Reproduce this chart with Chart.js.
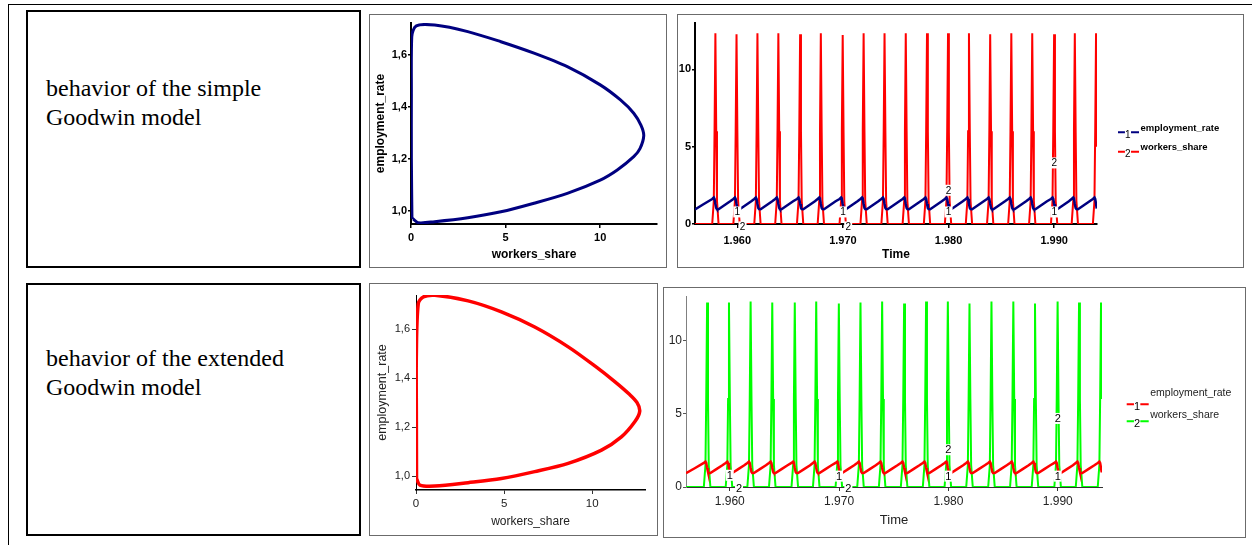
<!DOCTYPE html>
<html>
<head>
<meta charset="utf-8">
<script src="https://cdn.jsdelivr.net/npm/chart.js@4.4.1/dist/chart.umd.min.js"></script>
<style>
  html, body { margin: 0; padding: 0; background: #fff; }
  body { width: 1252px; height: 545px; position: relative; overflow: hidden; }
  .rule-top { position: absolute; left: 8px; top: 4px; width: 1244px; height: 1px; background: #000; }
  .rule-left { position: absolute; left: 8px; top: 4px; width: 1px; height: 541px; background: #000; }
  .textbox { position: absolute; border: 2px solid #000; box-sizing: border-box; }
  .textbox p { position: absolute; left: 18px; margin: 0; font-family: "Liberation Serif", "Times New Roman", serif; font-size: 24px; line-height: 29px; color: #000; white-space: nowrap; }
  .plotbox { position: absolute; border: 1px solid #6b6b6b; box-sizing: border-box; }
  .plotbox canvas { position: absolute; left: 0; top: 0; }
</style>
</head>
<body>
<div class="rule-top"></div>
<div class="rule-left"></div>

<div class="textbox" style="left:26px;top:10px;width:335px;height:258px">
  <p style="top:62px">behavior of the simple<br>Goodwin model</p>
</div>
<div class="textbox" style="left:26px;top:283px;width:335px;height:253px">
  <p style="top:59px">behavior of the extended<br>Goodwin model</p>
</div>

<div class="plotbox" style="left:369px;top:14px;width:298px;height:254px">
  <canvas id="phaseSimple" width="296" height="252"></canvas>
</div>
<div class="plotbox" style="left:677px;top:14px;width:567px;height:254px">
  <canvas id="timeSimple" width="565" height="252"></canvas>
</div>
<div class="plotbox" style="left:369px;top:283px;width:289px;height:253px">
  <canvas id="phaseExtended" width="287" height="251"></canvas>
</div>
<div class="plotbox" style="left:663px;top:287px;width:583px;height:251px">
  <canvas id="timeExtended" width="581" height="249"></canvas>
</div>

<script>
// ---- phase portraits (workers_share on x, employment_rate on y), one orbit each ----
const simpleOrbitWS  = [0.05, 0.02, 0.02, 0.04, 0.28, 1.25, 3.0, 4.75, 6.5, 8.26, 10.0, 11.07, 11.77, 12.15, 12.3, 12.1, 11.77, 10.9, 10.0, 8.26, 6.5, 4.75, 3.0, 1.25, 0.37, 0.07, 0.05];
const simpleOrbitEmp = [0.97, 1.2, 1.45, 1.67, 1.712, 1.715, 1.69, 1.651, 1.607, 1.555, 1.485, 1.427, 1.376, 1.33, 1.29, 1.24, 1.209, 1.158, 1.119, 1.068, 1.03, 0.997, 0.974, 0.959, 0.955, 0.972, 0.97];

const extOrbitWS  = [0.03, 0.02, 0.02, 0.13, 0.41, 1.07, 2.96, 4.85, 6.74, 8.64, 10.15, 11.3, 12.1, 12.55, 12.7, 12.45, 11.66, 10.53, 8.64, 6.74, 4.85, 2.96, 1.07, 0.22, 0.03];
const extOrbitEmp = [0.99, 1.25, 1.5, 1.705, 1.732, 1.739, 1.716, 1.671, 1.609, 1.528, 1.45, 1.385, 1.335, 1.30, 1.265, 1.225, 1.16, 1.106, 1.052, 1.018, 0.99, 0.973, 0.959, 0.963, 0.99];

const phaseXTicks = [0, 5, 10];
const phaseXLabels = ['0', '5', '10'];
const phaseYTicks = [1.0, 1.2, 1.4, 1.6];
const phaseYLabels = ['1,0', '1,2', '1,4', '1,6'];

// ---- time series (simulation time grid shared by both models) ----
const years = [
  1956.00, 1956.80,
  1957.63, 1957.78, 1957.85, 1957.93, 1958.01, 1958.08, 1958.23, 1958.78, 1959.33,
  1959.63, 1959.78, 1959.85, 1959.93, 1960.01, 1960.08, 1960.23, 1960.78, 1961.33,
  1961.61, 1961.76, 1961.83, 1961.91, 1961.99, 1962.06, 1962.21, 1962.76, 1963.31,
  1963.59, 1963.74, 1963.81, 1963.89, 1963.97, 1964.04, 1964.19, 1964.74, 1965.29,
  1965.65, 1965.80, 1965.87, 1965.95, 1966.03, 1966.10, 1966.25, 1966.80, 1967.35,
  1967.61, 1967.76, 1967.83, 1967.91, 1967.99, 1968.06, 1968.21, 1968.76, 1969.31,
  1969.68, 1969.83, 1969.90, 1969.98, 1970.06, 1970.13, 1970.28, 1970.83, 1971.38,
  1971.66, 1971.81, 1971.88, 1971.96, 1972.04, 1972.11, 1972.26, 1972.81, 1973.36,
  1973.64, 1973.79, 1973.86, 1973.94, 1974.02, 1974.09, 1974.24, 1974.79, 1975.34,
  1975.65, 1975.80, 1975.87, 1975.95, 1976.03, 1976.10, 1976.25, 1976.80, 1977.35,
  1977.66, 1977.81, 1977.88, 1977.96, 1978.04, 1978.11, 1978.26, 1978.81, 1979.36,
  1979.65, 1979.80, 1979.87, 1979.95, 1980.03, 1980.10, 1980.25, 1980.80, 1981.35,
  1981.63, 1981.78, 1981.85, 1981.93, 1982.01, 1982.08, 1982.23, 1982.78, 1983.33,
  1983.64, 1983.79, 1983.86, 1983.94, 1984.02, 1984.09, 1984.24, 1984.79, 1985.34,
  1985.64, 1985.79, 1985.86, 1985.94, 1986.02, 1986.09, 1986.24, 1986.79, 1987.34,
  1987.62, 1987.77, 1987.84, 1987.92, 1988.00, 1988.07, 1988.22, 1988.77, 1989.32,
  1989.69, 1989.84, 1989.91, 1989.99, 1990.07, 1990.14, 1990.29, 1990.84, 1991.39,
  1991.65, 1991.80, 1991.87, 1991.95, 1992.03, 1992.10, 1992.25, 1992.80, 1993.35,
  1993.66, 1993.81, 1993.88, 1993.96, 1994.02
];

const simpleEmployment = [
  0.94, 1.28,
  1.62, 1.71, 1.62, 1.30, 1.03, 0.96, 0.95, 1.21, 1.47,
  1.62, 1.71, 1.62, 1.30, 1.03, 0.96, 0.95, 1.21, 1.47,
  1.62, 1.71, 1.62, 1.30, 1.03, 0.96, 0.95, 1.21, 1.47,
  1.62, 1.71, 1.62, 1.30, 1.03, 0.96, 0.95, 1.21, 1.47,
  1.62, 1.71, 1.62, 1.30, 1.03, 0.96, 0.95, 1.21, 1.47,
  1.62, 1.71, 1.62, 1.30, 1.03, 0.96, 0.95, 1.21, 1.47,
  1.62, 1.71, 1.62, 1.30, 1.03, 0.96, 0.95, 1.21, 1.47,
  1.62, 1.71, 1.62, 1.30, 1.03, 0.96, 0.95, 1.21, 1.47,
  1.62, 1.71, 1.62, 1.30, 1.03, 0.96, 0.95, 1.21, 1.47,
  1.62, 1.71, 1.62, 1.30, 1.03, 0.96, 0.95, 1.21, 1.47,
  1.62, 1.71, 1.62, 1.30, 1.03, 0.96, 0.95, 1.21, 1.47,
  1.62, 1.71, 1.62, 1.30, 1.03, 0.96, 0.95, 1.21, 1.47,
  1.62, 1.71, 1.62, 1.30, 1.03, 0.96, 0.95, 1.21, 1.47,
  1.62, 1.71, 1.62, 1.30, 1.03, 0.96, 0.95, 1.21, 1.47,
  1.62, 1.71, 1.62, 1.30, 1.03, 0.96, 0.95, 1.21, 1.47,
  1.62, 1.71, 1.62, 1.30, 1.03, 0.96, 0.95, 1.21, 1.47,
  1.62, 1.71, 1.62, 1.30, 1.03, 0.96, 0.95, 1.21, 1.47,
  1.62, 1.71, 1.62, 1.30, 1.03, 0.96, 0.95, 1.21, 1.47,
  1.62, 1.71, 1.62, 1.30, 1.00
];

const simpleWorkers = [
  0, 0,
  0, 1.5, 6, 12.33, 6, 1.5, 0, 0, 0,
  0, 1.5, 6, 12.27, 6, 1.5, 0, 0, 0,
  0, 1.5, 6, 12.33, 6, 1.5, 0, 0, 0,
  0, 1.5, 6, 12.33, 6, 1.5, 0, 0, 0,
  0, 1.5, 6, 12.27, 6, 1.5, 0, 0, 0,
  0, 1.5, 6, 12.33, 6, 1.5, 0, 0, 0,
  0, 1.5, 6, 12.22, 6, 1.5, 0, 0, 0,
  0, 1.5, 6, 12.33, 6, 1.5, 0, 0, 0,
  0, 1.5, 6, 12.33, 6, 1.5, 0, 0, 0,
  0, 1.5, 6, 12.33, 6, 1.5, 0, 0, 0,
  0, 1.5, 6, 12.33, 6, 1.5, 0, 0, 0,
  0, 1.5, 6, 12.33, 6, 1.5, 0, 0, 0,
  0, 1.5, 6, 12.33, 6, 1.5, 0, 0, 0,
  0, 1.5, 6, 12.27, 6, 1.5, 0, 0, 0,
  0, 1.5, 6, 12.33, 6, 1.5, 0, 0, 0,
  0, 1.5, 6, 12.33, 6, 1.5, 0, 0, 0,
  0, 1.5, 6, 12.27, 6, 1.5, 0, 0, 0,
  0, 1.5, 6, 12.33, 6, 1.5, 0, 0, 0,
  0, 1.5, 6, 12.33, 5.0
];

const extEmployment = [
  0.94, 1.28,
  1.64, 1.73, 1.64, 1.30, 1.03, 0.96, 0.955, 1.22, 1.48,
  1.64, 1.73, 1.64, 1.30, 1.03, 0.96, 0.955, 1.22, 1.48,
  1.64, 1.73, 1.64, 1.30, 1.03, 0.96, 0.955, 1.22, 1.48,
  1.64, 1.73, 1.64, 1.30, 1.03, 0.96, 0.955, 1.22, 1.48,
  1.64, 1.73, 1.64, 1.30, 1.03, 0.96, 0.955, 1.22, 1.48,
  1.64, 1.73, 1.64, 1.30, 1.03, 0.96, 0.955, 1.22, 1.48,
  1.64, 1.73, 1.64, 1.30, 1.03, 0.96, 0.955, 1.22, 1.48,
  1.64, 1.73, 1.64, 1.30, 1.03, 0.96, 0.955, 1.22, 1.48,
  1.64, 1.73, 1.64, 1.30, 1.03, 0.96, 0.955, 1.22, 1.48,
  1.64, 1.73, 1.64, 1.30, 1.03, 0.96, 0.955, 1.22, 1.48,
  1.64, 1.73, 1.64, 1.30, 1.03, 0.96, 0.955, 1.22, 1.48,
  1.64, 1.73, 1.64, 1.30, 1.03, 0.96, 0.955, 1.22, 1.48,
  1.64, 1.73, 1.64, 1.30, 1.03, 0.96, 0.955, 1.22, 1.48,
  1.64, 1.73, 1.64, 1.30, 1.03, 0.96, 0.955, 1.22, 1.48,
  1.64, 1.73, 1.64, 1.30, 1.03, 0.96, 0.955, 1.22, 1.48,
  1.64, 1.73, 1.64, 1.30, 1.03, 0.96, 0.955, 1.22, 1.48,
  1.64, 1.73, 1.64, 1.30, 1.03, 0.96, 0.955, 1.22, 1.48,
  1.64, 1.73, 1.64, 1.30, 1.03, 0.96, 0.955, 1.22, 1.48,
  1.64, 1.73, 1.64, 1.30, 1.00
];

const extWorkers = [
  0, 0,
  0, 1.5, 6, 12.57, 6, 1.5, 0, 0, 0,
  0, 1.5, 6, 12.57, 6, 1.5, 0, 0, 0,
  0, 1.5, 6, 12.64, 6, 1.5, 0, 0, 0,
  0, 1.5, 6, 12.57, 6, 1.5, 0, 0, 0,
  0, 1.5, 6, 12.57, 6, 1.5, 0, 0, 0,
  0, 1.5, 6, 12.64, 6, 1.5, 0, 0, 0,
  0, 1.5, 6, 12.50, 6, 1.5, 0, 0, 0,
  0, 1.5, 6, 12.57, 6, 1.5, 0, 0, 0,
  0, 1.5, 6, 12.64, 6, 1.5, 0, 0, 0,
  0, 1.5, 6, 12.50, 6, 1.5, 0, 0, 0,
  0, 1.5, 6, 12.64, 6, 1.5, 0, 0, 0,
  0, 1.5, 6, 12.64, 6, 1.5, 0, 0, 0,
  0, 1.5, 6, 12.50, 6, 1.5, 0, 0, 0,
  0, 1.5, 6, 12.64, 6, 1.5, 0, 0, 0,
  0, 1.5, 6, 12.64, 6, 1.5, 0, 0, 0,
  0, 1.5, 6, 12.50, 6, 1.5, 0, 0, 0,
  0, 1.5, 6, 12.64, 6, 1.5, 0, 0, 0,
  0, 1.5, 6, 12.57, 6, 1.5, 0, 0, 0,
  0, 1.5, 6, 12.57, 6.0
];

const timeXTicks = [1960, 1970, 1980, 1990];
const timeXLabels = ['1.960', '1.970', '1.980', '1.990'];
const timeYTicks = [0, 5, 10];
const timeYLabels = ['0', '5', '10'];

// numbered curve markers ("1" = employment_rate, "2" = workers_share)
const simpleMark1X = [1960, 1970, 1980, 1990];
const simpleMark1Y = [0.78, 0.78, 0.78, 0.78];
const simpleMark2X = [1960.5, 1970.5, 1980, 1990];
const simpleMark2Y = [-0.19, -0.19, 2.18, 3.95];
const extMark1X = [1960, 1970, 1980, 1990];
const extMark1Y = [0.8, 0.74, 0.74, 0.74];
const extMark2X = [1960.85, 1970.85, 1980, 1990];
const extMark2Y = [-0.11, -0.11, 2.54, 4.67];

const NAVY = '#000080', RED = '#ff0000', GREEN = '#00ff00';
const SANS = "'Liberation Sans', Arial, sans-serif";
Chart.defaults.font.family = SANS;
Chart.defaults.color = '#000';

const pairs = (xs, ys) => xs.map((v, i) => ({ x: v, y: ys[i] }));

// draws the little white-boxed series numbers on the curves
const curveNumbers = {
  id: 'curveNumbers',
  afterDraw(chart, args, opts) {
    if (!opts.marks) return;
    const { ctx, scales: { x, y } } = chart;
    ctx.save();
    ctx.font = opts.font;
    ctx.textAlign = 'center';
    ctx.textBaseline = 'middle';
    opts.marks.forEach(m => {
      m.xs.forEach((xv, i) => {
        const px = x.getPixelForValue(xv), py = y.getPixelForValue(m.ys[i]);
        ctx.fillStyle = '#fff';
        ctx.fillRect(px - 4, py - 5.5, 8, 11);
        ctx.fillStyle = '#000';
        ctx.fillText(m.text, px, py + 0.5);
      });
    });
    ctx.restore();
  }
};

// legend: short coloured dash with the series number in it, label text to the right
const seriesKey = {
  id: 'seriesKey',
  afterDraw(chart, args, opts) {
    if (!opts.x) return;
    const { ctx } = chart;
    ctx.save();
    chart.data.datasets.forEach((ds, i) => {
      const ly = opts.y + i * opts.gap;
      ctx.strokeStyle = ds.borderColor;
      ctx.lineWidth = 2;
      ctx.beginPath();
      ctx.moveTo(opts.x, ly); ctx.lineTo(opts.x + opts.len * 0.33, ly);
      ctx.moveTo(opts.x + opts.len * 0.62, ly); ctx.lineTo(opts.x + opts.len, ly);
      ctx.stroke();
      ctx.fillStyle = '#000';
      ctx.font = opts.digitFont;
      ctx.textAlign = 'center';
      ctx.textBaseline = 'middle';
      ctx.fillText(String(i + 1), opts.x + opts.len * 0.47, ly + 2.5);
      ctx.font = opts.font;
      ctx.textAlign = 'left';
      ctx.textBaseline = 'alphabetic';
      ctx.fillStyle = opts.color;
      ctx.fillText(ds.label, opts.x + opts.len + 1.5, ly + opts.textDy[i]);
    });
    ctx.restore();
  }
};

Chart.register(curveNumbers, seriesKey);

function setTicks(values) {
  return s => { s.ticks = values.map(v => ({ value: v })); };
}

// ---------- simple model: phase portrait ----------
new Chart(document.getElementById('phaseSimple'), {
  type: 'scatter',
  data: { datasets: [{ label: 'orbit', data: pairs(simpleOrbitWS, simpleOrbitEmp), showLine: true,
    borderColor: NAVY, borderWidth: 3, pointRadius: 0, tension: 0.3, fill: false }] },
  options: {
    animation: false, responsive: false, devicePixelRatio: 1,
    layout: { padding: { top: 8, right: 9, left: 0, bottom: 0 } },
    plugins: { legend: { display: false }, tooltip: { enabled: false } },
    scales: {
      x: { type: 'linear', min: 0, max: 13, afterBuildTicks: setTicks(phaseXTicks), afterFit: s => { s.height = 43; },
        ticks: { autoSkip: false, maxRotation: 0, callback: (v, i) => phaseXLabels[i], font: { size: 11, weight: 'bold' }, color: '#000', padding: 3 },
        grid: { drawOnChartArea: false, drawTicks: true, tickLength: 4, color: '#000', lineWidth: 1.5 },
        border: { display: true, color: '#000', width: 2 },
        title: { display: true, text: 'workers_share', font: { size: 12, weight: 'bold' }, color: '#000', padding: { top: 0, bottom: 4.8 } } },
      y: { type: 'linear', min: 0.95, max: 1.723, afterBuildTicks: setTicks(phaseYTicks), afterFit: s => { s.width = 41; },
        ticks: { autoSkip: false, callback: (v, i) => phaseYLabels[i], font: { size: 11, weight: 'bold' }, color: '#000', padding: 1 },
        grid: { drawOnChartArea: false, drawTicks: true, tickLength: 3, color: '#000', lineWidth: 1.5 },
        border: { display: true, color: '#000', width: 2 },
        title: { display: true, text: 'employment_rate', font: { size: 12, weight: 'bold' }, color: '#000', padding: { top: 3.8, bottom: 0 } } }
    }
  }
});

// ---------- simple model: time series ----------
new Chart(document.getElementById('timeSimple'), {
  type: 'line',
  data: { datasets: [
    { label: 'employment_rate', data: pairs(years, simpleEmployment), borderColor: NAVY, borderWidth: 2.5, pointRadius: 0, tension: 0, fill: false },
    { label: 'workers_share', data: pairs(years, simpleWorkers), borderColor: RED, borderWidth: 2, pointRadius: 0, tension: 0, fill: false }
  ] },
  options: {
    animation: false, responsive: false, devicePixelRatio: 1,
    layout: { padding: { top: 8, right: 146, left: 0, bottom: 0 } },
    plugins: {
      legend: { display: false }, tooltip: { enabled: false },
      curveNumbers: { font: '10px ' + SANS, marks: [
        { text: '1', xs: simpleMark1X, ys: simpleMark1Y },
        { text: '2', xs: simpleMark2X, ys: simpleMark2Y }] },
      seriesKey: { x: 440, y: 117.3, gap: 19.4, len: 21, textDy: [-1.8, -1.8], color: '#000',
        font: 'bold 9.5px ' + SANS, digitFont: '10px ' + SANS }
    },
    scales: {
      x: { type: 'linear', min: 1956, max: 1994.05, z: 1, afterBuildTicks: setTicks(timeXTicks), afterFit: s => { s.height = 43; },
        ticks: { autoSkip: false, maxRotation: 0, callback: (v, i) => timeXLabels[i], font: { size: 11, weight: 'bold' }, color: '#000', padding: 6 },
        grid: { drawOnChartArea: false, drawTicks: true, tickLength: 4, color: '#000', lineWidth: 1.5 },
        border: { display: true, color: '#000', width: 2 },
        title: { display: true, text: 'Time', font: { size: 12, weight: 'bold' }, color: '#000', padding: { top: 0, bottom: 4.8 } } },
      y: { type: 'linear', min: 0, max: 13, afterBuildTicks: setTicks(timeYTicks), afterFit: s => { s.width = 17; },
        ticks: { autoSkip: false, callback: (v, i) => timeYLabels[i], font: { size: 11, weight: 'bold' }, color: '#000', padding: 1 },
        grid: { drawOnChartArea: false, drawTicks: true, tickLength: 3, color: '#000', lineWidth: 1.5 },
        border: { display: true, color: '#000', width: 2 } }
    }
  }
});

// ---------- extended model: phase portrait ----------
new Chart(document.getElementById('phaseExtended'), {
  type: 'scatter',
  data: { datasets: [{ label: 'orbit', data: pairs(extOrbitWS, extOrbitEmp), showLine: true,
    borderColor: RED, borderWidth: 3.5, pointRadius: 0, tension: 0.3, fill: false }] },
  options: {
    animation: false, responsive: false, devicePixelRatio: 1,
    layout: { padding: { top: 11, right: 12, left: 0, bottom: 0 } },
    plugins: { legend: { display: false }, tooltip: { enabled: false } },
    scales: {
      x: { type: 'linear', min: 0, max: 13, afterBuildTicks: setTicks(phaseXTicks), afterFit: s => { s.height = 45; },
        ticks: { autoSkip: false, maxRotation: 0, callback: (v, i) => phaseXLabels[i], font: { size: 11.5 }, color: '#222', padding: 2.5 },
        grid: { drawOnChartArea: false, drawTicks: true, tickLength: 4, color: '#333', lineWidth: 1 },
        border: { display: true, color: '#000', width: 1.5 },
        title: { display: true, text: 'workers_share', font: { size: 12 }, color: '#222', padding: { top: 0, bottom: 6.1 } } },
      y: { type: 'linear', min: 0.943, max: 1.74, afterBuildTicks: setTicks(phaseYTicks), afterFit: s => { s.width = 46; },
        ticks: { autoSkip: false, callback: (v, i) => phaseYLabels[i], font: { size: 11 }, color: '#222', padding: 2 },
        grid: { drawOnChartArea: false, drawTicks: true, tickLength: 4, color: '#333', lineWidth: 1 },
        border: { display: true, color: '#000', width: 1 },
        title: { display: true, text: 'employment_rate', font: { size: 12.5 }, color: '#222', padding: { top: 5.5, bottom: 0 } } }
    }
  }
});

// ---------- extended model: time series ----------
new Chart(document.getElementById('timeExtended'), {
  type: 'line',
  data: { datasets: [
    { label: 'employment_rate', data: pairs(years, extEmployment), borderColor: RED, borderWidth: 2.5, pointRadius: 0, tension: 0, fill: false },
    { label: 'workers_share', data: pairs(years, extWorkers), borderColor: GREEN, borderWidth: 2, pointRadius: 0, tension: 0, fill: false }
  ] },
  options: {
    animation: false, responsive: false, devicePixelRatio: 1,
    layout: { padding: { top: 6, right: 143, left: 0, bottom: 0 } },
    plugins: {
      legend: { display: false }, tooltip: { enabled: false },
      curveNumbers: { font: '11px ' + SANS, marks: [
        { text: '1', xs: extMark1X, ys: extMark1Y },
        { text: '2', xs: extMark2X, ys: extMark2Y }] },
      seriesKey: { x: 462.7, y: 116.3, gap: 17, len: 22, textDy: [-8, -3.7], color: '#222',
        font: '10.5px ' + SANS, digitFont: '11px ' + SANS }
    },
    scales: {
      x: { type: 'linear', min: 1956, max: 1994.05, afterBuildTicks: setTicks(timeXTicks), afterFit: s => { s.height = 50; },
        ticks: { autoSkip: false, maxRotation: 0, callback: (v, i) => timeXLabels[i], font: { size: 12 }, color: '#222', padding: 3.7 },
        grid: { drawOnChartArea: false, drawTicks: true, tickLength: 4, color: '#333', lineWidth: 1 },
        border: { display: true, color: '#333', width: 1 },
        title: { display: true, text: 'Time', font: { size: 13 }, color: '#222', padding: { top: 0, bottom: 9.2 } } },
      y: { type: 'linear', min: 0, max: 13, afterBuildTicks: setTicks(timeYTicks), afterFit: s => { s.width = 22; },
        ticks: { autoSkip: false, callback: (v, i) => timeYLabels[i], font: { size: 12 }, color: '#222', padding: 1 },
        grid: { drawOnChartArea: false, drawTicks: true, tickLength: 3, color: '#555', lineWidth: 1 },
        border: { display: true, color: '#808080', width: 1 } }
    }
  }
});
</script>
</body>
</html>
